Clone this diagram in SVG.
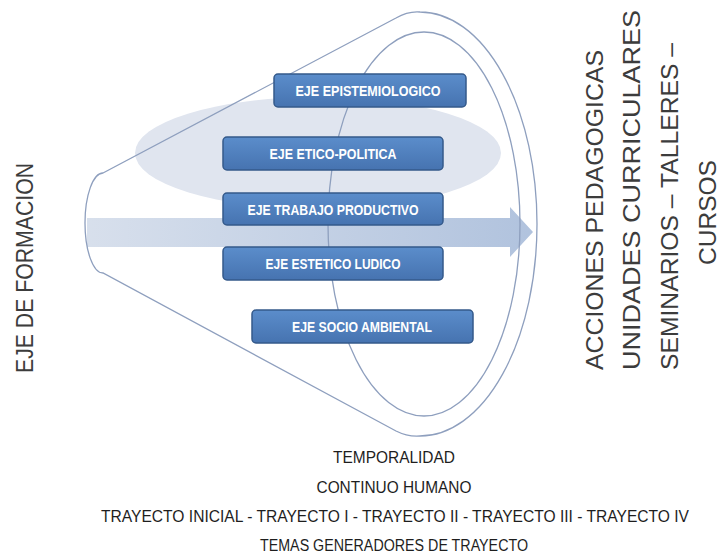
<svg xmlns="http://www.w3.org/2000/svg" width="720" height="557" viewBox="0 0 720 557">
<defs>
<linearGradient id="boxg" x1="0" y1="0" x2="0" y2="1">
<stop offset="0" stop-color="#5b8dcb"/>
<stop offset="1" stop-color="#4673b0"/>
</linearGradient>
<linearGradient id="arrg" x1="0" y1="0" x2="1" y2="0">
<stop offset="0" stop-color="#d3dcea"/>
<stop offset="1" stop-color="#a8bcda"/>
</linearGradient>
</defs>
<style>
.line{fill:none;stroke:#8e9fbe;stroke-width:1.3}
.box{fill:url(#boxg);stroke:#34598a;stroke-width:1.5}
.bt{font-family:"Liberation Sans",Arial,sans-serif;font-size:14px;font-weight:bold;fill:#ffffff;text-anchor:middle}
.side{font-family:"Liberation Sans",Arial,sans-serif;font-size:24.5px;fill:#3c3c3c}
.bot{font-family:"Liberation Sans",Arial,sans-serif;font-size:15.3px;fill:#1e1e1e;text-anchor:middle}
</style>
<rect width="720" height="557" fill="#ffffff"/>
<ellipse id="bg-ellipse" cx="318" cy="153" rx="183" ry="56" fill="#e0e5ef"/>
<polygon id="flow-arrow" points="87,218 510,218 510,207 533,232 510,257 510,247 87,247" fill="url(#arrg)" opacity="0.9"/>
<g id="connectors">
<path class="line" d="M103,173 L396,18 Q408,11 420,12 A117,212 0 0 1 420,436 Q408,437 396,431 L103,273 A18,50 0 0 1 103,173 Z"/>
<ellipse class="line" cx="424" cy="224" rx="96" ry="192"/>
</g>
<g id="n1"><rect class="box" x="274" y="74" width="192" height="33" rx="4"/><text class="bt" x="368" y="96" textLength="145" lengthAdjust="spacingAndGlyphs">EJE EPISTEMIOLOGICO</text></g>
<g id="n2"><rect class="box" x="223" y="137" width="220" height="33" rx="4"/><text class="bt" x="333" y="159" textLength="127" lengthAdjust="spacingAndGlyphs">EJE ETICO-POLITICA</text></g>
<g id="n3"><rect class="box" x="223" y="193" width="220" height="32" rx="4"/><text class="bt" x="333" y="214.5" textLength="171" lengthAdjust="spacingAndGlyphs">EJE TRABAJO PRODUCTIVO</text></g>
<g id="n4"><rect class="box" x="223" y="247" width="220" height="33" rx="4"/><text class="bt" x="333" y="269" textLength="135" lengthAdjust="spacingAndGlyphs">EJE ESTETICO LUDICO</text></g>
<g id="n5"><rect class="box" x="252" y="310" width="221" height="33" rx="4"/><text class="bt" x="362" y="332" textLength="140" lengthAdjust="spacingAndGlyphs">EJE SOCIO AMBIENTAL</text></g>
<g id="left-label"><text class="side" transform="translate(33,373) rotate(-90)" textLength="210" lengthAdjust="spacingAndGlyphs">EJE DE FORMACION</text></g>
<g id="right-labels">
<text class="side" transform="translate(603,370) rotate(-90)" textLength="320" lengthAdjust="spacingAndGlyphs">ACCIONES PEDAGOGICAS</text>
<text class="side" transform="translate(640,370) rotate(-90)" textLength="360" lengthAdjust="spacingAndGlyphs">UNIDADES CURRICULARES</text>
<text class="side" transform="translate(678,370) rotate(-90)" textLength="327" lengthAdjust="spacingAndGlyphs">SEMINARIOS – TALLERES –</text>
<text class="side" transform="translate(716,265) rotate(-90)" textLength="105" lengthAdjust="spacingAndGlyphs">CURSOS</text>
</g>
<g id="bottom-labels">
<text class="bot" transform="translate(394,463) scale(1,1.12)" textLength="122" lengthAdjust="spacingAndGlyphs">TEMPORALIDAD</text>
<text class="bot" transform="translate(394,493) scale(1,1.12)" textLength="155" lengthAdjust="spacingAndGlyphs">CONTINUO HUMANO</text>
<text class="bot" transform="translate(395,522) scale(1,1.12)" textLength="588" lengthAdjust="spacingAndGlyphs">TRAYECTO INICIAL  -  TRAYECTO I  -  TRAYECTO II  -  TRAYECTO  III  -  TRAYECTO  IV</text>
<text class="bot" transform="translate(394,551) scale(1,1.12)" textLength="268" lengthAdjust="spacingAndGlyphs">TEMAS GENERADORES DE TRAYECTO</text>
</g>
</svg>
